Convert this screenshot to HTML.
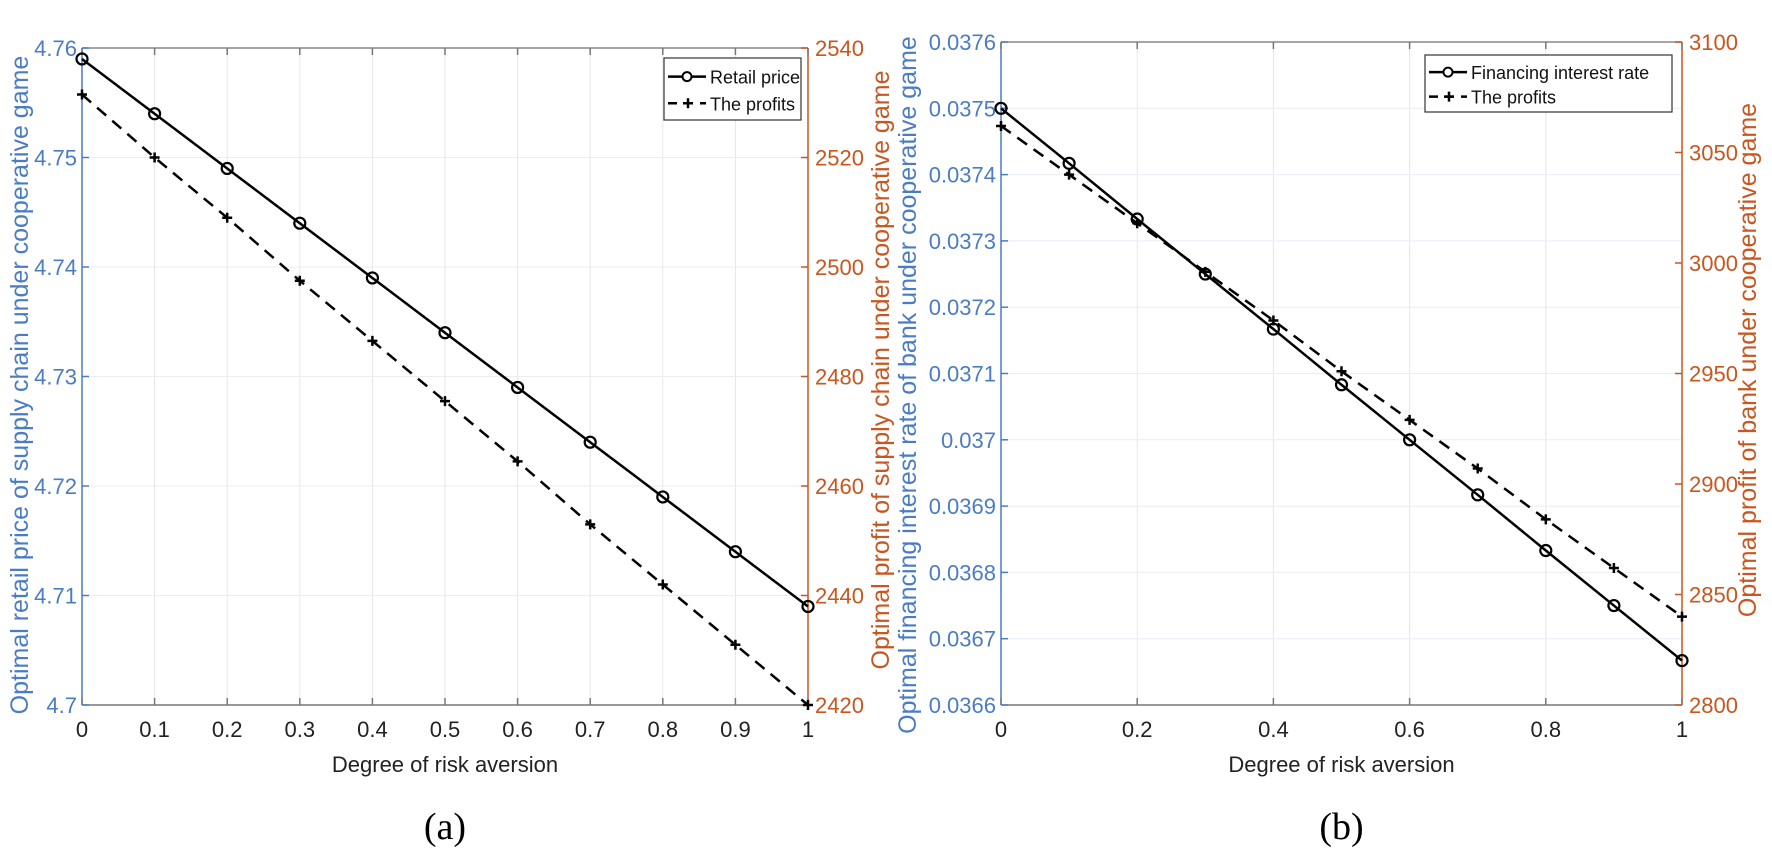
<!DOCTYPE html>
<html><head><meta charset="utf-8"><style>
html,body{margin:0;padding:0;background:#fff;}
svg{display:block;font-family:"Liberation Sans",Arial,sans-serif;}
</style></head><body>
<svg id="c" width="1772" height="850" viewBox="0 0 1772 850" xmlns="http://www.w3.org/2000/svg"></svg>
<script>
const xValsA = [0,0.1,0.2,0.3,0.4,0.5,0.6,0.7,0.8,0.9,1];
const retailPrice = [4.759,4.754,4.749,4.744,4.739,4.734,4.729,4.724,4.719,4.714,4.709];
const profitsA = [2531.5,2520,2509,2497.5,2486.5,2475.5,2464.5,2453,2442,2431,2420];
const xTicksA = [0,0.1,0.2,0.3,0.4,0.5,0.6,0.7,0.8,0.9,1];
const yTicksAL = [4.7,4.71,4.72,4.73,4.74,4.75,4.76];
const yTicksAR = [2420,2440,2460,2480,2500,2520,2540];

const xValsB = [0,0.1,0.2,0.3,0.4,0.5,0.6,0.7,0.8,0.9,1];
const interestRate = [0.0375,0.037417,0.037333,0.03725,0.037167,0.037083,0.0370,0.036917,0.036833,0.03675,0.036667];
const profitsB = [3062,3040,3018,2996,2974,2951,2929,2907,2884,2862,2840];
const xTicksB = [0,0.2,0.4,0.6,0.8,1];
const yTicksBL = [0.0366,0.0367,0.0368,0.0369,0.037,0.0371,0.0372,0.0373,0.0374,0.0375,0.0376];
const yTicksBLabels = ["0.0366","0.0367","0.0368","0.0369","0.037","0.0371","0.0372","0.0373","0.0374","0.0375","0.0376"];
const yTicksBR = [2800,2850,2900,2950,3000,3050,3100];

const NS="http://www.w3.org/2000/svg";
const svg=document.getElementById('c');
function el(tag,attrs,parent,text){const e=document.createElementNS(NS,tag);for(const k in attrs)e.setAttribute(k,attrs[k]);if(text!==undefined)e.textContent=text;(parent||svg).appendChild(e);return e;}
const BLUE="#4a7cc4",ORANGE="#c8561e";

function panel(cfg){
  const g=el('g',{});
  
  
  const {x0,x1,y0,y1}=cfg;
  const sx=v=>x0+(v-cfg.xmin)/(cfg.xmax-cfg.xmin)*(x1-x0);
  const syL=v=>y1-(v-cfg.lmin)/(cfg.lmax-cfg.lmin)*(y1-y0);
  const syR=v=>y1-(v-cfg.rmin)/(cfg.rmax-cfg.rmin)*(y1-y0);
  cfg.xTicks.forEach(t=>{const l=el('line',{x1:sx(t),x2:sx(t),y1:y0,y2:y1,stroke:'#e6e6e6','stroke-width':1},g);});
  cfg.yTicksL.forEach(t=>{const l=el('line',{x1:x0,x2:x1,y1:syL(t),y2:syL(t),stroke:'#e8eef6','stroke-width':1},g);});
  const top=el('line',{x1:x0,x2:x1,y1:y0,y2:y0,stroke:'#888','stroke-width':1.5},g);
  
  const bot=el('line',{x1:x0,x2:x1,y1:y1,y2:y1,stroke:'#777','stroke-width':1.5},g);
  
  const la=el('line',{x1:x0,x2:x0,y1:y0,y2:y1,stroke:BLUE,'stroke-width':1.5},g);
  
  const ra=el('line',{x1:x1,x2:x1,y1:y0,y2:y1,stroke:ORANGE,'stroke-width':1.5},g);
  
  cfg.xTicks.forEach(t=>{
    el('line',{x1:sx(t),x2:sx(t),y1:y1,y2:y1-7,stroke:'#777','stroke-width':1.5},g);
    el('line',{x1:sx(t),x2:sx(t),y1:y0,y2:y0+7,stroke:'#777','stroke-width':1.5},g);
    const tx=el('text',{x:sx(t),y:y1+32,'font-size':22,'text-anchor':'middle',fill:'#222'},g,String(t));
    
  });
  cfg.yTicksL.forEach((t,i)=>{
    el('line',{x1:x0,x2:x0+7,y1:syL(t),y2:syL(t),stroke:BLUE,'stroke-width':1.5},g);
    const tx=el('text',{x:x0-5,y:syL(t)+8,'font-size':22,'text-anchor':'end',fill:BLUE},g,cfg.yLabelsL?cfg.yLabelsL[i]:String(t));
    
  });
  cfg.yTicksR.forEach(t=>{
    el('line',{x1:x1,x2:x1-7,y1:syR(t),y2:syR(t),stroke:ORANGE,'stroke-width':1.5},g);
    const tx=el('text',{x:x1+7,y:syR(t)+8,'font-size':22,'text-anchor':'start',fill:ORANGE},g,String(t));
    
  });
  const cx=(x0+x1)/2, cy=(y0+y1)/2;
  const xt=el('text',{x:cx,y:y1+67,'font-size':22,'text-anchor':'middle',fill:'#222'},g,'Degree of risk aversion');
  
  const lt=el('text',{x:0,y:0,'font-size':25,'text-anchor':'middle',fill:BLUE,transform:`translate(${cfg.ltx},${cfg.lty}) rotate(-90)`},g,cfg.lTitle);
  
  const rt=el('text',{x:0,y:0,'font-size':25,'text-anchor':'middle',fill:ORANGE,transform:`translate(${cfg.rtx},${cfg.rty}) rotate(-90)`},g,cfg.rTitle);
  
  const cap=el('text',{x:cx,y:y1+134,'font-size':38,'text-anchor':'middle',fill:'#000','font-family':'"Liberation Serif",serif'},g,cfg.caption);
  
  const p1=cfg.xs.map((v,i)=>`${sx(v)},${syL(cfg.s1[i])}`).join(' ');
  const l1=el('polyline',{points:p1,fill:'none',stroke:'#000','stroke-width':2.5},g);
  
  cfg.xs.forEach((v,i)=>{const c=el('circle',{cx:sx(v),cy:syL(cfg.s1[i]),r:5.5,fill:'none',stroke:'#000','stroke-width':2.2},g);});
  const p2=cfg.xs.map((v,i)=>`${sx(v)},${syR(cfg.s2[i])}`).join(' ');
  const l2=el('polyline',{points:p2,fill:'none',stroke:'#000','stroke-width':2.5,'stroke-dasharray':'12 8'},g);
  
  cfg.xs.forEach((v,i)=>{const X=sx(v),Y=syR(cfg.s2[i]);const p=el('path',{d:`M${X-5},${Y}H${X+5}M${X},${Y-5}V${Y+5}`,stroke:'#000','stroke-width':2.5},g);});
  const L=cfg.leg;
  const lg=el('g',{},g);
  
  el('rect',{x:L.x,y:L.y,width:L.w,height:L.h,fill:'#fff',stroke:'#333','stroke-width':1.2},lg);
  const r1=L.y+L.h*0.3, r2=L.y+L.h*0.73;
  el('line',{x1:L.x+4,x2:L.x+42,y1:r1,y2:r1,stroke:'#000','stroke-width':2.5},lg);
  el('circle',{cx:L.x+23,cy:r1,r:4.5,fill:'#fff',stroke:'#000','stroke-width':2},lg);
  const e1=el('text',{x:L.x+46,y:r1+7,'font-size':18,fill:'#111'},lg,cfg.s1label);
  
  el('line',{x1:L.x+4,x2:L.x+42,y1:r2,y2:r2,stroke:'#000','stroke-width':2.5,'stroke-dasharray':'9 7'},lg);
  el('path',{d:`M${L.x+19},${r2}H${L.x+29}M${L.x+24},${r2-5}V${r2+5}`,stroke:'#000','stroke-width':2.5},lg);
  const e2=el('text',{x:L.x+46,y:r2+7,'font-size':18,fill:'#111'},lg,'The profits');
  
}

panel({name:'chart-a',x0:82,x1:808,y0:48,y1:705,xmin:0,xmax:1,lmin:4.7,lmax:4.76,rmin:2420,rmax:2540,
  xTicks:xTicksA,yTicksL:yTicksAL,yTicksR:yTicksAR,xs:xValsA,s1:retailPrice,s2:profitsA,
  s1name:'retail-price',s1label:'Retail price',caption:'(a)',ltx:28,lty:385,rtx:889,rty:370,
  lTitle:'Optimal retail price of supply chain under cooperative game',
  rTitle:'Optimal profit of supply chain under cooperative game',
  leg:{x:664,y:58,w:137,h:62}});
panel({name:'chart-b',x0:1001,x1:1682,y0:42,y1:705,xmin:0,xmax:1,lmin:0.0366,lmax:0.0376,rmin:2800,rmax:3100,
  xTicks:xTicksB,yTicksL:yTicksBL,yLabelsL:yTicksBLabels,yTicksR:yTicksBR,xs:xValsB,s1:interestRate,s2:profitsB,
  s1name:'financing-interest-rate',s1label:'Financing interest rate',caption:'(b)',ltx:916,lty:385,rtx:1756,rty:360,
  lTitle:'Optimal financing interest rate of bank under cooperative game',
  rTitle:'Optimal profit of bank under cooperative game',
  leg:{x:1425,y:55,w:247,h:57}});
</script>
</body></html>
